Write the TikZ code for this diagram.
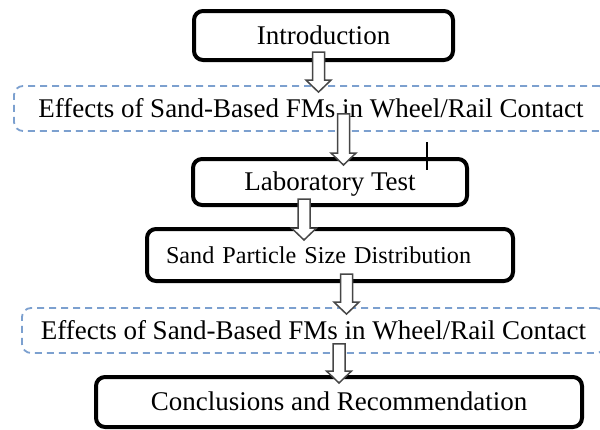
\documentclass[tikz,border=0pt]{standalone}
\usepackage{fontspec}
\setmainfont{Liberation Serif}
\usetikzlibrary{calc}

\definecolor{dashblue}{RGB}{124,160,207}
\definecolor{arrowgray}{RGB}{70,70,70}

\begin{document}
\begin{tikzpicture}[x=1pt, y=-1pt, font=\fontsize{27}{32}\selectfont,
  stepbox/.style={draw, line width=4pt, rounded corners=9pt, inner sep=0pt,
    text height=17.8pt, text depth=0pt},
  effbox/.style={draw=dashblue, line width=1.8pt, dash pattern=on 7pt off 5pt,
    rounded corners=9pt, inner sep=0pt, text height=17.8pt, text depth=0pt},
  hollow/.style={draw=arrowgray, fill=white, line width=1.5pt, line join=miter}]
  \useasboundingbox (0,0) rectangle (600,429);

  % steps of the study
  \node[stepbox, minimum width=259pt, minimum height=49pt] (intro) at (323.5,35.5) {Introduction};
  \node[effbox, minimum width=594pt, minimum height=45pt] (effA) at (311,108.5)
    {Effects of Sand-Based FMs in Wheel/Rail Contact};
  \node[stepbox, minimum width=274pt, minimum height=46pt] (lab) at (330,182) {Laboratory Test};
  \node[stepbox, minimum width=366pt, minimum height=52pt, text width=328pt, align=left,
    inner xsep=19pt, text height=16pt, font=\fontsize{24.2}{30}\selectfont] (sand) at (330,255)
    {Sand Particle Size Distribution};
  \node[effbox, minimum width=583pt, minimum height=45pt] (effB) at (313.5,330.5)
    {Effects of Sand-Based FMs in Wheel/Rail Contact};
  \node[stepbox, minimum width=486pt, minimum height=50pt] (concl) at (339,402)
    {Conclusions and Recommendation};

  % stray mark
  \draw[line width=2pt] (427,142) -- (427,170);

  % hollow down arrows
  \foreach \src/\dst/\ax/\ovtop/\ovtip in {intro/effA/318.5/10/7, effA/lab/343.5/18/8,
    lab/sand/304/8/13, sand/effB/346.5/9/7, effB/concl/339/10/8} {%
    \draw[hollow] let \p1 = (\src.south), \p2 = (\dst.north) in
      ({\ax*1pt-6pt},{\y1+\ovtop*1pt}) -- ({\ax*1pt+6pt},{\y1+\ovtop*1pt}) --
      ({\ax*1pt+6pt},{\y2-\ovtip*1pt+12pt}) -- ({\ax*1pt+12.5pt},{\y2-\ovtip*1pt+12pt}) --
      ({\ax*1pt},{\y2-\ovtip*1pt}) -- ({\ax*1pt-12.5pt},{\y2-\ovtip*1pt+12pt}) --
      ({\ax*1pt-6pt},{\y2-\ovtip*1pt+12pt}) -- cycle;
  }
\end{tikzpicture}
\end{document}
